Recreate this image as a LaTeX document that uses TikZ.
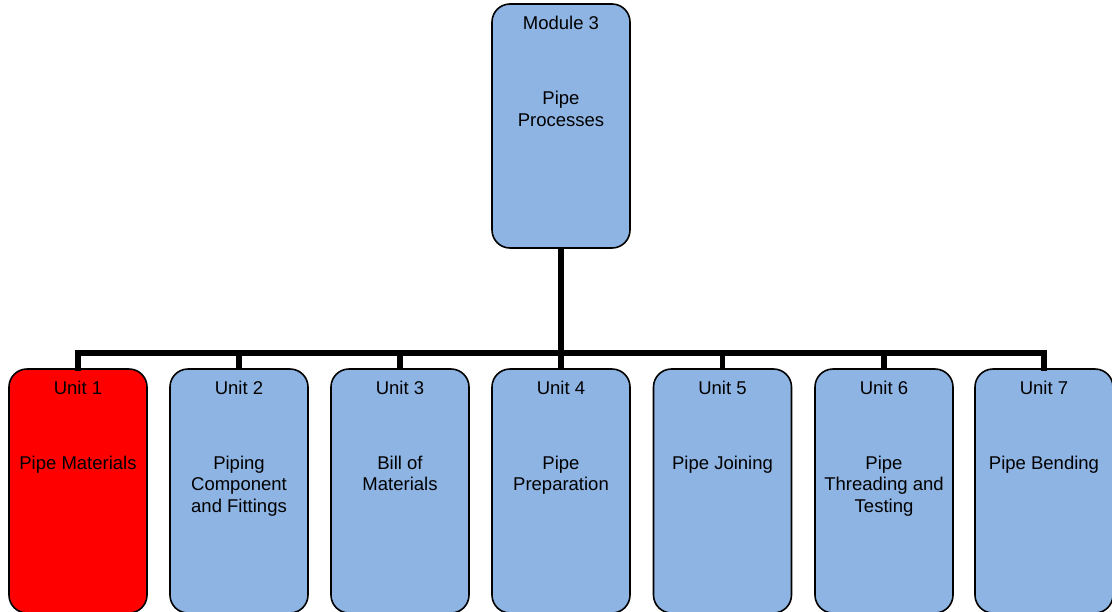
\documentclass[tikz,border=0pt]{standalone}
\usepackage{fontspec}
\setmainfont{Liberation Sans}
\definecolor{boxblue}{HTML}{8EB4E3}
\definecolor{boxred}{HTML}{FF0000}
\begin{document}
\begin{tikzpicture}[x=1pt,y=-1pt,
  card/.style={draw=black, line width=1.6pt, rounded corners=18pt,
    minimum width=138pt, minimum height=244pt, inner sep=0pt, fill=boxblue},
  cardtext/.style={anchor=north, inner sep=0pt, align=center,
    font=\fontsize{18.5}{21.5}\selectfont},
  bus/.style={line width=5.5pt}]
\useasboundingbox (0,0) rectangle (1112,611);
\clip (0,0) rectangle (1112,611);

% top card
\node[card] (m) at (561,126) {};
\node[cardtext] (mlab) at ([yshift=-12.4pt]m.north) {Module 3};
\node[cardtext] (mtxt) at ([yshift=-88pt]m.north) {Pipe\\Processes};

% unit cards (unit 1 highlighted in red)
\foreach \i/\x/\col/\txt in {1/78/boxred/{Pipe Materials},
                        2/239/boxblue/{Piping\\Component\\and Fittings},
                        3/400/boxblue/{Bill of\\Materials},
                        4/561/boxblue/{Pipe\\Preparation},
                        5/722.5/boxblue/{Pipe Joining},
                        6/884/boxblue/{Pipe\\Threading and\\Testing},
                        7/1044/boxblue/{Pipe Bending}} {
  \node[card, fill=\col] (u\i) at (\x,491) {};
  \node[cardtext] (u\i lab) at ([yshift=-12.4pt]u\i.north) {Unit \i};
  \node[cardtext] (u\i txt) at ([yshift=-87.4pt]u\i.north) {\txt};
}

% connectors
\coordinate (busmid) at (561,353);
\draw[bus] (m.south) -- (busmid);
\draw[bus, line cap=rect] (u1.north) |- (busmid) -| (u7.north);
\foreach \i in {2,...,6} {
  \draw[bus] (u\i.north) -- (u\i.north |- busmid);
}
\end{tikzpicture}
\end{document}
